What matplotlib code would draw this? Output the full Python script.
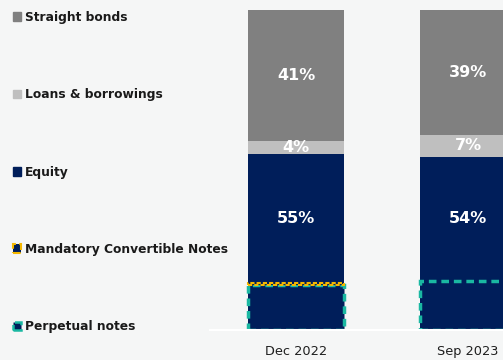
import matplotlib
matplotlib.use("Agg")
import matplotlib.pyplot as plt
from matplotlib.patches import Patch

# Funding mix (% of total)
periods = ["Dec 2022", "Sep 2023"]
straight_bonds = [41, 39]
loans_borrowings = [4, 7]
equity = [55, 54]                 # includes the hybrid instruments below
mandatory_convertible = [0.5, 0.0]
perpetual_notes = [14.1, 15.4]

series_names = ["Straight bonds", "Loans & borrowings", "Equity",
                "Mandatory Convertible Notes", "Perpetual notes"]

BG = "#f5f6f6"
GREY = "#808080"
LIGHT = "#bfbfbf"
NAVY = "#001e5a"
YELLOW = "#f5b800"
TEAL = "#1ab8a2"

plt.rcParams["font.family"] = ["DejaVu Sans"]

fig = plt.figure(figsize=(5.03, 3.60), dpi=100, facecolor=BG)
ax = fig.add_axes([210 / 503, 30 / 360, 1 - 210 / 503, 330 / 360])
ax.set_facecolor(BG)

x = list(range(len(periods)))
w = 0.56

# main stack: equity at the bottom, then loans, then bonds
ax.bar(x, equity, w, color=NAVY, zorder=1)
bottoms_l = list(equity)
ax.bar(x, loans_borrowings, w, bottom=bottoms_l, color=LIGHT, zorder=1)
bottoms_b = [e + l for e, l in zip(equity, loans_borrowings)]
ax.bar(x, straight_bonds, w, bottom=bottoms_b, color=GREY, zorder=1)

# hybrid instruments highlighted inside the equity block
ax.bar(x, perpetual_notes, w, color=NAVY, edgecolor=TEAL, linewidth=2.5,
       linestyle=(0, (2.2, 1.4)), zorder=2)
for i in x:
    if mandatory_convertible[i] > 0:
        ax.bar(i, mandatory_convertible[i], w, bottom=perpetual_notes[i],
               color=NAVY, edgecolor=YELLOW, linewidth=1.5,
               linestyle=(0, (2, 1)), zorder=3)

lab_kw = dict(ha="center", va="center", color="white", fontsize=11.5,
              fontweight="bold", zorder=4)
for i in x:
    ax.text(i, bottoms_b[i] + straight_bonds[i] / 2, f"{straight_bonds[i]}%", **lab_kw)
    ax.text(i, bottoms_l[i] + loans_borrowings[i] / 2, f"{loans_borrowings[i]}%", **lab_kw)
    low = perpetual_notes[i] + mandatory_convertible[i]
    ax.text(i, (low + equity[i]) / 2, f"{equity[i]}%", **lab_kw)

ax.set_xlim(-0.5, 1.2035)
ax.set_ylim(0, 103.125)
ax.set_xticks(x)
ax.set_xticklabels(periods, fontsize=9.3, color="#1f1f1f")
ax.tick_params(axis="x", length=0, pad=10.5)
ax.set_yticks([])
for s in ("top", "right", "left"):
    ax.spines[s].set_visible(False)
ax.spines["bottom"].set_color("white")
ax.spines["bottom"].set_linewidth(1.5)
ax.spines["bottom"].set_zorder(5)

handles = [
    Patch(facecolor=GREY, edgecolor=GREY),
    Patch(facecolor=LIGHT, edgecolor=LIGHT),
    Patch(facecolor=NAVY, edgecolor=NAVY),
    Patch(facecolor=NAVY, edgecolor=YELLOW, linewidth=1.5, linestyle="--"),
    Patch(facecolor=NAVY, edgecolor=TEAL, linewidth=1.8, linestyle="--"),
]
fig.legend(handles, series_names, loc="upper left",
           bbox_to_anchor=(13 / 503, 1 - 11 / 360), frameon=False,
           borderpad=0, borderaxespad=0, handlelength=0.68, handleheight=0.72,
           handletextpad=0.3, labelspacing=5.26,
           prop=dict(size=8.8, weight="bold"), labelcolor="#1a1a1a")

fig.savefig("out.png", dpi=100, facecolor=BG)
